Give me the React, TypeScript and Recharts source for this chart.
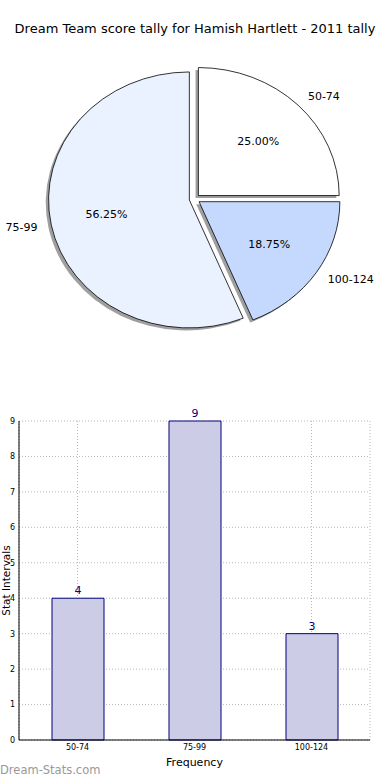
import { PieChart, Pie, BarChart, Bar, XAxis, YAxis, CartesianGrid, LabelList } from 'recharts';

const categories = ['50-74', '75-99', '100-124'];
const counts = [4, 9, 3];
const sliceColors = ['#ffffff', '#eaf1ff', '#c5d9ff'];
const yTicks = [0, 1, 2, 3, 4, 5, 6, 7, 8, 9];

const FONT = '"DejaVu Sans", Verdana, sans-serif';
const RY = 128;
const X_STRETCH = 1.1;
const EXPLODE = 0.038;
const RAD = Math.PI / 180;

const pieData = categories.map((c, i) => ({ name: c, value: counts[i], fill: sliceColors[i] }));
const barData = categories.map((c, i) => ({ name: c, value: counts[i] }));

function wedgePath(cx: number, cy: number, rx: number, ry: number, a0: number, a1: number) {
    const x0 = cx + rx * Math.cos(a0 * RAD);
    const y0 = cy - ry * Math.sin(a0 * RAD);
    const x1 = cx + rx * Math.cos(a1 * RAD);
    const y1 = cy - ry * Math.sin(a1 * RAD);
    const large = Math.abs(a1 - a0) > 180 ? 1 : 0;
    return `M${cx},${cy} L${x0},${y0} A${rx},${ry} 0 ${large} 0 ${x1},${y1} Z`;
}

function ExplodedWedge(props: any) {
    const { cx, cy, startAngle, endAngle, outerRadius, fill } = props;
    const mid = (startAngle + endAngle) / 2;
    const rx = outerRadius * X_STRETCH;
    const ox = cx + EXPLODE * rx * Math.cos(mid * RAD);
    const oy = cy - EXPLODE * outerRadius * Math.sin(mid * RAD);
    const d = wedgePath(ox, oy, rx, outerRadius, startAngle, endAngle);
    return (
        <g>
            <path d={d} fill="#7f7f7f" fillOpacity={0.75} stroke="none" transform={`translate(${-0.02 * rx},${0.02 * outerRadius})`} />
            <path d={d} fill={fill} stroke="#000" strokeWidth={0.8} />
        </g>
    );
}

function PieLabel(props: any) {
    const { cx, cy, midAngle, outerRadius, percent, name } = props;
    const rx = outerRadius * X_STRETCH;
    const c = Math.cos(midAngle * RAD);
    const s = Math.sin(midAngle * RAD);
    const ox = cx + EXPLODE * rx * c;
    const oy = cy - EXPLODE * outerRadius * s;
    const lx = ox + 1.1 * rx * c;
    const ly = oy - 1.1 * outerRadius * s;
    const px = ox + 0.6 * rx * c;
    const py = oy - 0.6 * outerRadius * s;
    return (
        <g fontFamily={FONT} fontSize={11} fill="#000">
            <text x={lx} y={ly} textAnchor={c >= 0 ? 'start' : 'end'} dominantBaseline="central">{name}</text>
            <text x={px} y={py} textAnchor="middle" dominantBaseline="central">{(percent * 100).toFixed(2)}%</text>
        </g>
    );
}

function YLabel(props: any) {
    const vb = props.viewBox || {};
    const x = 5.5;
    const y = (vb.y ?? 0) + (vb.height ?? 0) / 2;
    return (
        <text x={x} y={y} transform={`rotate(-90, ${x}, ${y})`} textAnchor="middle" dominantBaseline="central"
            fontFamily={FONT} fontSize={10.5} fill="#000">Stat Intervals</text>
    );
}

export default function App() {
    return (
        <div style={{ position: 'absolute', left: 0, top: 0, width: 390, height: 780, background: '#fff', fontFamily: FONT }}>
            <div style={{ position: 'absolute', left: 0, top: 21, width: 390, textAlign: 'center', fontSize: 13, color: '#000', whiteSpace: 'nowrap' }}>
                Dream Team score tally for Hamish Hartlett - 2011 tally
            </div>
            <div style={{ position: 'absolute', left: 0, top: 0 }}>
                <PieChart width={390} height={360} margin={{ top: 0, right: 0, bottom: 0, left: 0 }}>
                    <Pie
                        data={pieData}
                        dataKey="value"
                        nameKey="name"
                        cx={194.6}
                        cy={199}
                        outerRadius={RY}
                        startAngle={0}
                        endAngle={360}
                        stroke="none"
                        shape={<ExplodedWedge />}
                        label={PieLabel}
                        labelLine={false}
                        isAnimationActive={false}
                    />
                </PieChart>
            </div>
            <div style={{ position: 'absolute', left: 0, top: 400 }}>
                <BarChart width={390} height={380} data={barData} margin={{ top: 21, right: 20, left: 0, bottom: 0 }}>
                    <CartesianGrid stroke="#b8b8b8" strokeDasharray="1 2" />
                    <XAxis
                        dataKey="name"
                        height={40}
                        tickSize={0}
                        tickMargin={4}
                        tickLine={false}
                        axisLine={{ stroke: '#000' }}
                        tick={{ fontSize: 8, fill: '#000', fontFamily: FONT }}
                        label={{ value: 'Frequency', position: 'insideBottom', offset: 14, fontSize: 11, fill: '#000', fontFamily: FONT }}
                    />
                    <XAxis xAxisId="top" dataKey="name" orientation="top" height={0} tick={false} tickLine={false} axisLine={{ stroke: '#000' }} />
                    <YAxis
                        width={19}
                        domain={[0, 9]}
                        ticks={yTicks}
                        tickSize={0}
                        tickMargin={4}
                        tickLine={false}
                        axisLine={{ stroke: '#000' }}
                        tick={{ fontSize: 8, fill: '#000', fontFamily: FONT }}
                        label={<YLabel />}
                    />
                    <YAxis yAxisId="right" orientation="right" width={0} domain={[0, 9]} tick={false} tickLine={false} axisLine={{ stroke: '#000' }} />
                    <Bar dataKey="value" barSize={52} fill="#ccccE6" stroke="#000080" strokeWidth={1} isAnimationActive={false}>
                        <LabelList dataKey="value" position="top" offset={4} fill="#000080" fontSize={11} fontFamily={FONT} />
                    </Bar>
                </BarChart>
            </div>
            <div style={{ position: 'absolute', left: 0, top: 763, fontSize: 11.5, color: '#999', whiteSpace: 'nowrap' }}>
                Dream-Stats.com
            </div>
        </div>
    );
}
